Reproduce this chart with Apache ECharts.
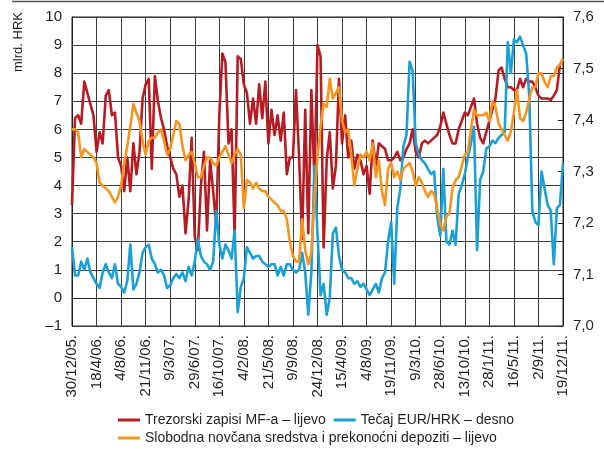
<!DOCTYPE html>
<html>
<head>
<meta charset="utf-8">
<script src="https://cdn.jsdelivr.net/npm/echarts@6/dist/echarts.min.js"></script>
<style>
  html, body { margin: 0; padding: 0; background: #fff; }
  #chart { width: 604px; height: 450px; }
</style>
</head>
<body>
<div id="chart"></div>
<script>
// Labelled dates on the horizontal axis (one every STEP observations)
const tickDates = ['30/12/05.', '18/4/06.', '4/8/06.', '21/11/06.', '9/3/07.', '29/6/07.', '16/10/07.',
  '4/2/08.', '21/5/08.', '9/9/08.', '24/12/08.', '15/4/09.', '4/8/09.', '19/11/09.', '9/3/10.',
  '28/6/10.', '13/10/10.', '28/1/11.', '16/5/11.', '2/9/11.', '19/12/11.'];
const STEP = 8;

// Treasury bills of the Ministry of Finance, bn HRK (left axis)
const treasuryBills = [
  3.3, 6.4, 6.5, 6.2, 7.7, 7.3, 6.9, 6.5,
  5.2, 5.9, 5.5, 7.2, 7.4, 6.5, 6.6, 5.0,
  4.7, 3.8, 5.0, 3.8, 5.5, 4.4, 5.2, 7.1,
  7.6, 7.8, 4.6, 7.9, 7.0, 6.4, 6.0, 5.4,
  5.0, 4.6, 4.4, 3.6, 4.0, 2.3, 3.5, 5.7,
  2.2, 1.7, 4.0, 5.2, 2.4, 4.9, 3.8, 2.6,
  6.5, 8.7, 8.4, 5.5, 6.0, 2.2, 8.6, 8.5,
  7.6, 7.3, 6.2, 7.1, 6.2, 7.6, 6.4, 7.7,
  5.5, 6.7, 5.8, 6.5, 5.6, 6.6, 4.4, 5.0,
  5.0, 7.4, 5.0, 2.1, 6.7, 2.3, 7.4, 4.2,
  9.0, 8.6, 1.8, 4.9, 5.9, 3.9, 4.7, 7.8,
  5.5, 6.5, 5.0, 5.6, 4.6, 5.1, 4.9, 4.4,
  4.7, 3.7, 5.6, 4.7, 5.5, 5.4, 5.3, 4.9,
  4.9, 5.0, 5.2, 4.9, 5.0, 5.3, 5.5, 6.0,
  5.2, 5.0, 5.5, 5.6, 5.5, 5.6, 5.7, 5.8,
  6.1, 6.6, 6.2, 5.8, 5.5, 5.5, 6.0, 6.3,
  6.6, 6.5, 6.8, 7.1, 6.2, 5.7, 5.5, 5.9,
  6.3, 6.7, 7.1, 8.1, 8.2, 7.8, 7.5, 7.5,
  7.4, 7.4, 7.8, 7.5, 7.8, 7.7, 7.7, 7.5,
  7.2, 7.1, 7.1, 7.1, 7.05, 7.2, 7.4, 8.3,
  8.5
];

// EUR/HRK exchange rate (right axis)
const eurHrk = [
  7.153, 7.098, 7.098, 7.125, 7.109, 7.131, 7.104, 7.093,
  7.082, 7.074, 7.104, 7.120, 7.104, 7.093, 7.120, 7.082,
  7.076, 7.065, 7.087, 7.158, 7.071, 7.082, 7.104, 7.142,
  7.153, 7.158, 7.131, 7.120, 7.104, 7.109, 7.098, 7.074,
  7.079, 7.093, 7.101, 7.093, 7.104, 7.087, 7.115, 7.098,
  7.125, 7.169, 7.136, 7.125, 7.120, 7.109, 7.125, 7.224,
  7.158, 7.131, 7.158, 7.147, 7.131, 7.185, 7.027, 7.076,
  7.093, 7.153, 7.142, 7.131, 7.136, 7.136, 7.125, 7.120,
  7.115, 7.120, 7.120, 7.098, 7.115, 7.098, 7.120, 7.120,
  7.109, 7.104, 7.109, 7.142, 7.104, 7.022, 7.104, 7.311,
  7.180, 7.060, 7.082, 7.022, 7.055, 7.180, 7.191, 7.136,
  7.109, 7.104, 7.093, 7.093, 7.082, 7.087, 7.076, 7.082,
  7.071, 7.060, 7.071, 7.082, 7.065, 7.093, 7.104, 7.164,
  7.202, 7.082, 7.229, 7.267, 7.349, 7.371, 7.513, 7.496,
  7.355, 7.333, 7.322, 7.316, 7.305, 7.295, 7.300, 7.213,
  7.175, 7.305, 7.164, 7.158, 7.185, 7.158, 7.256, 7.273,
  7.295, 7.327, 7.355, 7.387, 7.147, 7.284, 7.300, 7.344,
  7.349, 7.360, 7.355, 7.365, 7.371, 7.376, 7.551, 7.491,
  7.556, 7.551, 7.562, 7.545, 7.529, 7.447, 7.224, 7.202,
  7.196, 7.300, 7.267, 7.235, 7.224, 7.120, 7.229, 7.235,
  7.316
];

// Free liquidity and overnight deposits, bn HRK (left axis)
const liquidity = [
  6.0, 6.0, 5.9, 5.0, 5.3, 5.2, 5.1, 5.0,
  4.8, 4.1, 4.0, 3.9, 3.8, 3.6, 3.4, 3.6,
  4.0, 4.8, 5.4, 6.1, 6.9, 6.6, 6.3, 5.6,
  5.1, 5.6, 5.7, 5.7, 5.9, 6.0, 5.6, 5.1,
  5.3, 5.8, 6.3, 6.2, 5.4, 4.9, 5.1, 5.2,
  4.8, 4.3, 4.3, 4.7, 5.0, 5.0, 4.8, 4.7,
  5.0, 5.2, 5.4, 5.1, 4.8, 5.1, 5.3, 5.1,
  3.2, 4.2, 4.1, 3.9, 4.1, 3.9, 3.8, 3.8,
  3.6, 3.5, 3.4, 3.3, 3.1, 3.1, 2.8, 2.0,
  1.5, 1.3, 1.3, 2.8, 1.7, 1.2, 1.6, 3.5,
  5.0, 6.1, 6.9, 6.8, 7.8, 7.1, 7.3, 7.5,
  6.3, 5.9, 6.0, 5.1, 4.0, 4.6, 5.1, 5.0,
  5.2, 4.9, 5.5, 4.3, 4.9, 3.8, 3.3, 4.6,
  4.8, 4.3, 4.5, 4.2, 4.6, 4.7, 4.8, 4.5,
  4.0, 4.3, 4.1, 3.8, 3.6, 3.8, 3.7, 3.2,
  2.6, 2.4, 2.9, 3.0, 3.9, 4.2, 4.3, 4.7,
  5.1, 5.2, 6.0, 6.7, 6.5, 6.5, 6.5, 6.6,
  6.3, 7.0, 6.8, 6.2, 6.0, 5.8, 5.6, 5.9,
  6.6, 7.4, 6.4, 6.3, 6.6, 7.1, 7.5, 7.5,
  8.0, 8.0, 7.7, 7.5, 7.9, 7.9, 8.2, 8.3,
  8.5
];

const seriesNames = [
  'Trezorski zapisi MF-a – lijevo',
  'Tečaj EUR/HRK – desno',
  'Slobodna novčana sredstva i prekonoćni depoziti – lijevo'
];
const colors = ['#b71c22', '#19a0d8', '#f7941d'];

const FONT = "'Liberation Sans', Arial, Helvetica, sans-serif";
const TEXT = '#231f20';
const GRID = '#3c3c3c';

// one category per observation; only every STEP-th one carries a date
const periods = treasuryBills.map((_, i) => 'p' + i);
const isLabelled = (i) => i % STEP === 0;

const chart = echarts.init(document.getElementById('chart'), null, { renderer: 'canvas' });

const legendBase = {
  left: 118,
  icon: 'rect',
  itemWidth: 22,
  itemHeight: 3,
  itemGap: 8,
  selectedMode: false,
  padding: 0,
  textStyle: { fontSize: 14, color: TEXT, fontFamily: FONT }
};

chart.setOption({
  animation: false,
  backgroundColor: '#fff',
  textStyle: { fontFamily: FONT },
  grid: {
    left: 72, right: 41, top: 17, bottom: 124,
    show: true, borderColor: '#222', borderWidth: 1,
    outerBoundsMode: 'none', containLabel: false
  },
  legend: [
    Object.assign({ top: 413, data: [seriesNames[0], seriesNames[1]] }, legendBase),
    Object.assign({ top: 431, data: [seriesNames[2]] }, legendBase)
  ],
  graphic: [
    { type: 'line', silent: true, shape: { x1: 12, y1: 1.5, x2: 604, y2: 1.5 },
      style: { stroke: '#555', lineWidth: 1.5 } },
    { type: 'text', silent: true, x: 18, y: 42, rotation: Math.PI / 2,
      style: { text: 'mlrd. HRK', fill: TEXT, font: '13px ' + FONT,
               textAlign: 'center', textVerticalAlign: 'middle' } }
  ],
  xAxis: {
    type: 'category',
    data: periods,
    boundaryGap: false,
    axisLine: { show: true, lineStyle: { color: '#222', width: 1 } },
    axisTick: { show: false },
    axisLabel: {
      interval: (i) => isLabelled(i),
      formatter: (v, i) => (isLabelled(i) ? tickDates[i / STEP] : ''),
      rotate: 90,
      margin: 9,
      fontSize: 15,
      color: TEXT,
      fontFamily: FONT
    },
    splitLine: { show: true, interval: (i) => isLabelled(i), lineStyle: { color: GRID, width: 1 } }
  },
  yAxis: [
    {
      type: 'value', position: 'left',
      min: -1, max: 10, interval: 1,
      axisLine: { show: true, lineStyle: { color: '#222', width: 1 } },
      axisTick: { show: false },
      axisLabel: {
        margin: 10, fontSize: 15, color: TEXT, fontFamily: FONT,
        formatter: (v) => (v < 0 ? '–' + Math.abs(v) : String(v))
      },
      splitLine: { show: true, lineStyle: { color: GRID, width: 1 } }
    },
    {
      type: 'value', position: 'right',
      min: 7.0, max: 7.6, interval: 0.1,
      axisLine: { show: true, lineStyle: { color: '#222', width: 1 } },
      axisTick: { show: true, inside: true, length: 5, lineStyle: { color: '#222', width: 1 } },
      axisLabel: {
        margin: 10, fontSize: 15, color: TEXT, fontFamily: FONT,
        formatter: (v) => v.toFixed(1).replace('.', ',')
      },
      splitLine: { show: false }
    }
  ],
  series: [
    { name: seriesNames[0], type: 'line', yAxisIndex: 0, data: treasuryBills },
    { name: seriesNames[1], type: 'line', yAxisIndex: 1, data: eurHrk },
    { name: seriesNames[2], type: 'line', yAxisIndex: 0, data: liquidity }
  ].map((s, k) => Object.assign(s, {
    showSymbol: false,
    symbol: 'none',
    lineStyle: { color: colors[k], width: 2.6, join: 'round' },
    itemStyle: { color: colors[k] },
    emphasis: { disabled: true }
  }))
});
</script>
</body>
</html>
